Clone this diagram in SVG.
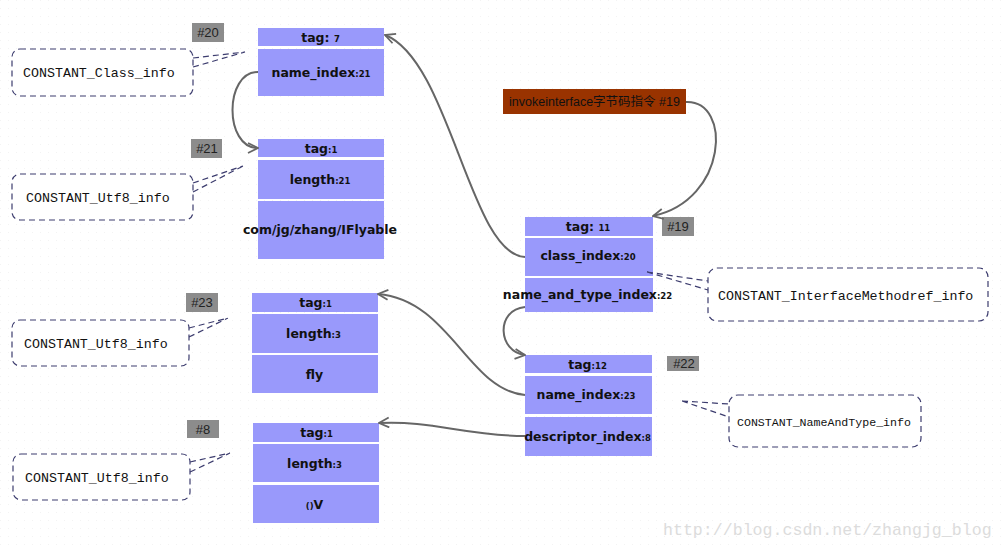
<svg xmlns="http://www.w3.org/2000/svg" width="1005" height="548" viewBox="0 0 1005 548">
<defs>
<marker id="arr" viewBox="0 0 12 12" refX="11" refY="6" markerWidth="12" markerHeight="12" markerUnits="userSpaceOnUse" orient="auto">
<path d="M1,1 L11,6 L1,11" fill="none" stroke="#666" stroke-width="1.8"/>
</marker>
<pattern id="dots" width="8" height="8" patternUnits="userSpaceOnUse">
<rect x="0" y="0" width="1" height="1" fill="#f3f3f3"/>
</pattern>
</defs>
<style>
.cell{fill:#9999fb}
.t{font-family:"DejaVu Sans","Lato",sans-serif;font-weight:bold;font-size:12.5px;fill:#111;text-anchor:middle}
.s{font-size:8.5px}
.lbl{fill:#8c8c8c}
.lt{font-family:"Liberation Sans",sans-serif;font-size:13px;fill:#222;text-anchor:middle}
.co{fill:#fff;stroke:#3c3c6e;stroke-width:1.2;stroke-dasharray:6,4}
.tail{stroke:#3c3c6e;stroke-width:1.2;stroke-dasharray:6,4;fill:none}
.ct{font-family:"Liberation Mono",monospace;font-size:13.3px;fill:#111}
.conn{fill:none;stroke:#666;stroke-width:2;marker-end:url(#arr)}
</style>
<rect width="1005" height="548" fill="#fff"/>
<rect width="1005" height="548" fill="url(#dots)"/>

<g id="n20">
<rect class="lbl" x="192" y="23" width="32" height="19"/>
<text class="lt" x="208" y="37">#20</text>
<rect class="cell" x="258" y="28" width="126" height="18"/>
<rect class="cell" x="258" y="49" width="126" height="47"/>
<text class="t" x="320.5" y="42">tag:  <tspan class="s">7</tspan></text>
<text class="t" x="321" y="77">name_index<tspan class="s">:21</tspan></text>
</g>

<g id="n21">
<rect class="lbl" x="191" y="139" width="31" height="19"/>
<text class="lt" x="207" y="153">#21</text>
<rect class="cell" x="258" y="139" width="126" height="18"/>
<rect class="cell" x="258" y="160" width="126" height="39"/>
<rect class="cell" x="258" y="201" width="126" height="58"/>
<text class="t" x="321" y="153">tag<tspan class="s">:1</tspan></text>
<text class="t" x="320" y="184">length<tspan class="s">:21</tspan></text>
<text class="t" x="320" y="234">com/jg/zhang/IFlyable</text>
</g>

<g id="n23">
<rect class="lbl" x="186" y="293" width="32" height="19"/>
<text class="lt" x="202" y="307">#23</text>
<rect class="cell" x="252" y="293" width="126" height="19"/>
<rect class="cell" x="252" y="314" width="126" height="39"/>
<rect class="cell" x="252" y="355" width="126" height="38"/>
<text class="t" x="315.5" y="307">tag<tspan class="s">:1</tspan></text>
<text class="t" x="313.5" y="338">length<tspan class="s">:3</tspan></text>
<text class="t" x="314.5" y="379">fly</text>
</g>

<g id="n8">
<rect class="lbl" x="187" y="420" width="32" height="18"/>
<text class="lt" x="203" y="434">#8</text>
<rect class="cell" x="253" y="423" width="126" height="19"/>
<rect class="cell" x="253" y="444" width="126" height="38"/>
<rect class="cell" x="253" y="485" width="126" height="38"/>
<text class="t" x="316.5" y="437">tag<tspan class="s">:1</tspan></text>
<text class="t" x="314.5" y="468">length<tspan class="s">:3</tspan></text>
<text class="t" x="314.5" y="509"><tspan class="s">()</tspan>V</text>
</g>

<g id="invoke">
<rect x="503" y="89" width="183" height="25" fill="#993300"/>
<text x="594.5" y="106" font-family="'Liberation Sans','Noto Sans CJK SC',sans-serif" font-size="12.5" fill="#111" text-anchor="middle">invokeinterface字节码指令 #19</text>
</g>

<g id="n19">
<rect class="lbl" x="662" y="217" width="32" height="19"/>
<text class="lt" x="678" y="231">#19</text>
<rect class="cell" x="525" y="217" width="128" height="19"/>
<rect class="cell" x="525" y="238" width="128" height="38"/>
<rect class="cell" x="525" y="278" width="128" height="34"/>
<text class="t" x="588" y="231">tag:  <tspan class="s">11</tspan></text>
<text class="t" x="588" y="260">class_index<tspan class="s">:20</tspan></text>
<text class="t" x="587.5" y="299">name_and_type_index<tspan class="s">:22</tspan></text>
</g>

<g id="n22">
<rect class="lbl" x="667" y="356" width="32" height="15"/>
<text class="lt" x="684" y="368">#22</text>
<rect class="cell" x="525" y="355" width="127" height="18"/>
<rect class="cell" x="525" y="376" width="127" height="38"/>
<rect class="cell" x="525" y="417" width="127" height="39"/>
<text class="t" x="587.5" y="369">tag<tspan class="s">:12</tspan></text>
<text class="t" x="586" y="399">name_index<tspan class="s">:23</tspan></text>
<text class="t" x="587.5" y="441">descriptor_index<tspan class="s">:8</tspan></text>
</g>

<g id="c-class">
<rect class="co" x="12" y="49" width="181" height="47" rx="8"/>
<path class="tail" d="M193,58 L245,52 M193,67 L245,52"/>
<text class="ct" x="23" y="77">CONSTANT_Class_info</text>
</g>
<g id="c-utf8-21">
<rect class="co" x="12" y="174" width="181" height="46" rx="8"/>
<path class="tail" d="M193,183 L243,166 M193,192 L243,166"/>
<text class="ct" x="26" y="202">CONSTANT_Utf8_info</text>
</g>
<g id="c-utf8-23">
<rect class="co" x="12" y="320" width="177" height="46" rx="8"/>
<path class="tail" d="M189,328 L228,318 M189,337 L228,318"/>
<text class="ct" x="24" y="348">CONSTANT_Utf8_info</text>
</g>
<g id="c-utf8-8">
<rect class="co" x="13" y="454" width="177" height="46" rx="8"/>
<path class="tail" d="M190,462 L230,453 M190,472 L230,453"/>
<text class="ct" x="25" y="482">CONSTANT_Utf8_info</text>
</g>
<g id="c-imref">
<rect class="co" x="708" y="268" width="280" height="53" rx="9"/>
<path class="tail" d="M647,272 L708,281 M647,272 L708,290"/>
<text class="ct" x="718" y="300">CONSTANT_InterfaceMethodref_info</text>
</g>
<g id="c-nat">
<rect class="co" x="729" y="395" width="192" height="52" rx="9"/>
<path class="tail" d="M682,401 L729,404 M682,401 L729,417"/>
<text class="ct" x="737" y="426" style="font-size:11.6px">CONSTANT_NameAndType_info</text>
</g>

<g id="connectors">
<path class="conn" d="M525,257 C470,255 450,60 385,35"/>
<path class="conn" d="M258,72 C224,72 224,148 258,148"/>
<path class="conn" d="M686,102 C732,100 728,200 653,216"/>
<path class="conn" d="M525,307 C495,310 498,352 525,355"/>
<path class="conn" d="M525,395 C468,390 450,300 378,294"/>
<path class="conn" d="M525,436 C468,436 430,420 379,423"/>
</g>

<text x="663" y="535" font-family="'Liberation Mono',monospace" font-size="16.6" fill="#dcdcdc">http://blog.csdn.net/zhangjg_blog</text>
</svg>
